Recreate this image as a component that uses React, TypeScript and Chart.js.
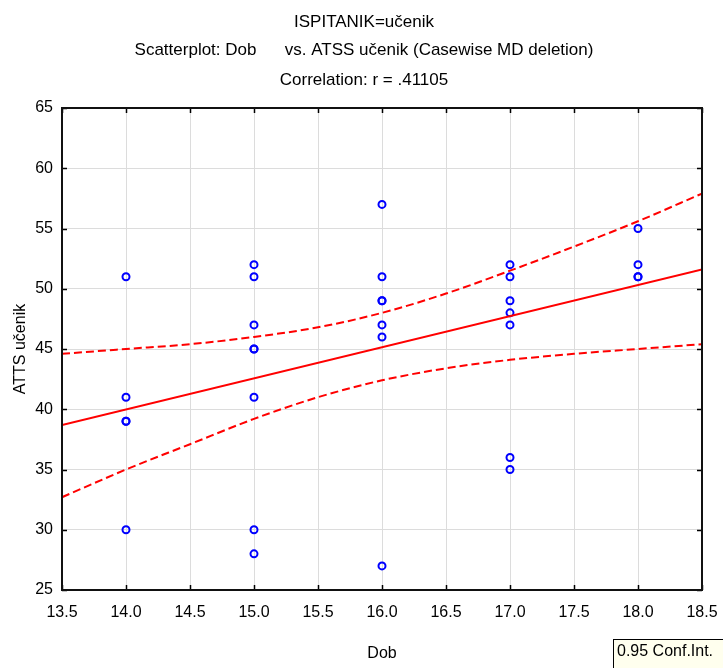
import React, { useEffect, useRef } from "react";
import { Chart, registerables } from "chart.js";

Chart.register(...registerables);

const FONT = "'Liberation Sans', Arial, Helvetica, sans-serif";

const titleLines = [
  "ISPITANIK=učenik",
  "Scatterplot: Dob      vs. ATSS učenik (Casewise MD deletion)",
  "Correlation: r = .41105",
];
const xAxisTitle = "Dob";
const yAxisTitle = "ATTS učenik";
const legendText = "0.95 Conf.Int.";

// Scatter points (Dob, ATTS učenik)
const dobValues = [
  14, 14, 14, 14, 14,
  15, 15, 15, 15, 15, 15, 15, 15,
  16, 16, 16, 16, 16, 16, 16,
  17, 17, 17, 17, 17, 17, 17,
  18, 18, 18, 18,
];
const attsValues = [
  51, 41, 39, 39, 30,
  52, 51, 47, 45, 45, 41, 30, 28,
  57, 51, 49, 49, 47, 46, 27,
  52, 51, 49, 48, 47, 36, 35,
  55, 52, 51, 51,
];

// Regression line
const regX = [13.5, 18.5];
const regY = [38.7, 51.6];

// 0.95 confidence band
const ciX = [13.5, 14.0, 14.5, 15.0, 15.5, 16.0, 16.5, 17.0, 17.5, 18.0, 18.5];
const ciUpper = [44.6, 45.0, 45.4, 46.0, 46.8, 48.0, 49.6, 51.5, 53.5, 55.6, 57.9];
const ciLower = [32.7, 35.0, 37.1, 39.2, 41.0, 42.4, 43.4, 44.1, 44.6, 45.0, 45.4];

const titleYs = [22, 50, 80];

const frameLegendPlugin = {
  id: "frameLegend",
  afterDraw(chart: any) {
    const { ctx, chartArea } = chart;
    const { left, right, top, bottom } = chartArea;
    ctx.save();
    // titles
    ctx.fillStyle = "#000";
    ctx.font = `17px ${FONT}`;
    ctx.textAlign = "center";
    ctx.textBaseline = "middle";
    titleLines.forEach((t, i) => ctx.fillText(t, 364, titleYs[i]));
    // inward tick marks
    ctx.strokeStyle = "#000";
    ctx.lineWidth = 1.5;
    const xs = chart.scales.x;
    const ys = chart.scales.y;
    ys.ticks.forEach((t: any) => {
      const y = Math.round(ys.getPixelForValue(t.value)) + 0.5;
      ctx.beginPath();
      ctx.moveTo(left, y);
      ctx.lineTo(left + 5, y);
      ctx.moveTo(right, y);
      ctx.lineTo(right - 5, y);
      ctx.stroke();
    });
    xs.ticks.forEach((t: any) => {
      const x = Math.round(xs.getPixelForValue(t.value)) + 0.5;
      ctx.beginPath();
      ctx.moveTo(x, bottom);
      ctx.lineTo(x, bottom - 5);
      ctx.moveTo(x, top);
      ctx.lineTo(x, top + 5);
      ctx.stroke();
    });
    // frame
    ctx.lineWidth = 2;
    ctx.strokeStyle = "#111";
    ctx.strokeRect(left, top, right - left, bottom - top);
    // legend box
    ctx.fillStyle = "#ffffee";
    ctx.fillRect(613.5, 639.5, 130, 40);
    ctx.lineWidth = 1;
    ctx.strokeStyle = "#000";
    ctx.strokeRect(613.5, 639.5, 130, 40);
    ctx.fillStyle = "#000";
    ctx.font = `16px ${FONT}`;
    ctx.textBaseline = "middle";
    ctx.textAlign = "left";
    ctx.fillText(legendText, 617, 652);
    ctx.restore();
  },
};

export default function App() {
  const ref = useRef<HTMLCanvasElement | null>(null);

  useEffect(() => {
    if (!ref.current) return;
    Chart.defaults.font.family = FONT;
    const points = dobValues.map((x, i) => ({ x, y: attsValues[i] }));
    const reg = regX.map((x, i) => ({ x, y: regY[i] }));
    const up = ciX.map((x, i) => ({ x, y: ciUpper[i] }));
    const lo = ciX.map((x, i) => ({ x, y: ciLower[i] }));

    const dashed = {
      type: "line" as any,
      borderColor: "#ff0000",
      borderWidth: 2,
      borderDash: [8, 4],
      pointRadius: 0,
      fill: false,
      cubicInterpolationMode: "monotone",
      showLine: true,
    };

    const chart = new Chart(ref.current, {
      type: "scatter",
      data: {
        datasets: [
          { ...dashed, data: up } as any,
          { ...dashed, data: lo } as any,
          {
            type: "line" as any,
            data: reg,
            borderColor: "#ff0000",
            borderWidth: 2,
            pointRadius: 0,
            fill: false,
            showLine: true,
          } as any,
          {
            data: points,
            pointStyle: "circle",
            pointRadius: 3.5,
            pointBorderWidth: 2,
            pointBorderColor: "#0000ff",
            pointBackgroundColor: "rgba(0,0,0,0)",
            borderColor: "#0000ff",
            backgroundColor: "rgba(0,0,0,0)",
          } as any,
        ],
      },
      options: {
        animation: false,
        responsive: false,
        devicePixelRatio: 1,
        layout: { padding: { left: 0, right: 21, top: 108, bottom: 0 } },
        plugins: {
          legend: { display: false },
          tooltip: { enabled: false },
          title: { display: false },
        },
        scales: {
          x: {
            type: "linear",
            min: 13.5,
            max: 18.5,
            ticks: {
              stepSize: 0.5,
              autoSkip: false,
              maxRotation: 0,
              color: "#000",
              font: { size: 16 },
              padding: 13,
              callback: (v: any) => Number(v).toFixed(1),
            },
            grid: { color: "#dcdcdc", lineWidth: 1, drawTicks: false },
            border: { display: false },
            title: {
              display: true,
              text: xAxisTitle,
              color: "#000",
              font: { size: 16 },
              padding: { top: 0, bottom: 5 },
            },
            afterFit: (s: any) => {
              s.height = 78;
              s.paddingLeft = 0;
              s.paddingRight = 0;
            },
          },
          y: {
            type: "linear",
            min: 25,
            max: 65,
            ticks: {
              stepSize: 5,
              color: "#000",
              font: { size: 16 },
              padding: 9,
            },
            grid: { color: "#dcdcdc", lineWidth: 1, drawTicks: false },
            border: { display: false },
            title: {
              display: true,
              text: yAxisTitle,
              color: "#000",
              font: { size: 16 },
              padding: { top: 11, bottom: 0 },
            },
            afterFit: (s: any) => {
              s.width = 62;
              s.paddingTop = 0;
              s.paddingBottom = 0;
            },
          },
        },
      },
      plugins: [frameLegendPlugin],
    });
    return () => chart.destroy();
  }, []);

  return (
    <div
      style={{
        position: "absolute",
        left: 0,
        top: 0,
        width: 723,
        height: 668,
        overflow: "hidden",
        background: "#fff",
      }}
    >
      <canvas ref={ref} width={723} height={668} style={{ display: "block" }} />
    </div>
  );
}
